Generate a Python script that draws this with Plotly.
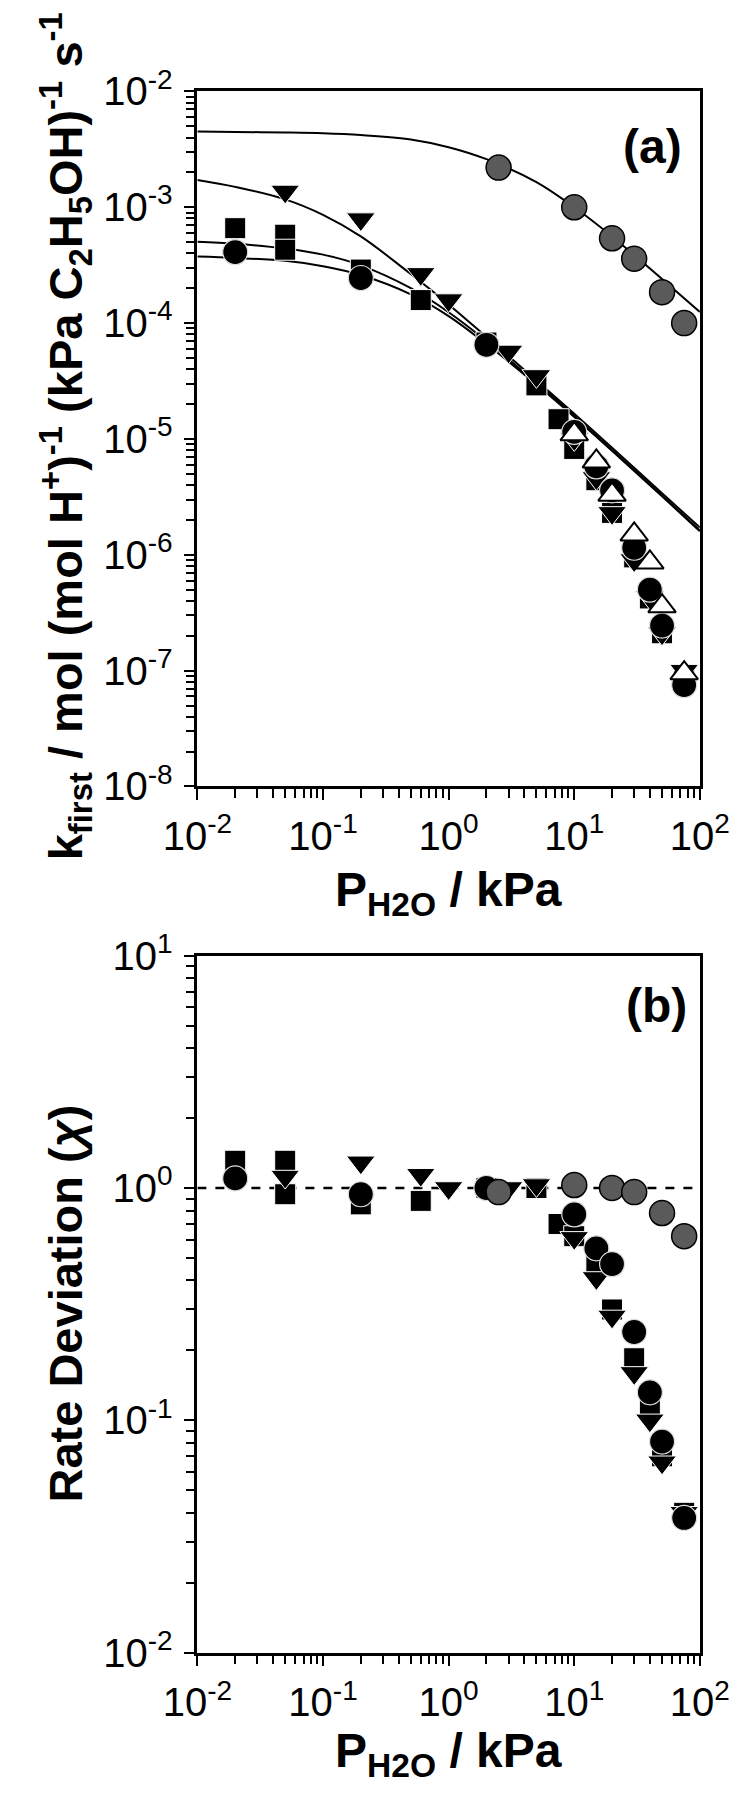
import plotly.graph_objects as go

W, H = 752, 1795

# ---------------- data: panel (a) ----------------
P_CURVE = [0.01, 0.02, 0.05, 0.1, 0.2, 0.5, 1, 2, 5, 10, 20, 50, 100]
curve_gray = [4.5e-3, 4.47e-3, 4.42e-3, 4.35e-3, 4.2e-3, 3.85e-3, 3.3e-3, 2.6e-3, 1.65e-3, 1.0e-3, 5.6e-4, 2.4e-4, 1.25e-4]
curve_tri = [1.72e-3, 1.5e-3, 1.17e-3, 8.6e-4, 5.6e-4, 2.65e-4, 1.45e-4, 7.6e-5, 3.2e-5, 1.65e-5, 8.4e-6, 3.4e-6, 1.72e-6]
curve_sq = [5.05e-4, 4.85e-4, 4.4e-4, 3.9e-4, 3.15e-4, 2.0e-4, 1.24e-4, 7.0e-5, 3.05e-5, 1.58e-5, 8.0e-6, 3.25e-6, 1.62e-6]
curve_circ = [3.75e-4, 3.65e-4, 3.45e-4, 3.1e-4, 2.6e-4, 1.77e-4, 1.15e-4, 6.6e-5, 2.95e-5, 1.55e-5, 7.9e-6, 3.2e-6, 1.6e-6]

gray_x = [2.5, 10, 20, 30, 50, 75]
gray_k = [2.2e-3, 1.0e-3, 5.4e-4, 3.6e-4, 1.85e-4, 1.0e-4]
circ_x = [0.02, 0.2, 2, 10, 15, 20, 30, 40, 50, 75]
circ_k = [4.1e-4, 2.45e-4, 6.5e-5, 1.15e-5, 5.8e-6, 3.6e-6, 1.15e-6, 5.0e-7, 2.45e-7, 7.5e-8]
sq_x = [0.02, 0.05, 0.05, 0.2, 0.6, 2, 5, 7.5, 10, 15, 20, 30, 40, 50, 75]
sq_k = [6.6e-4, 5.8e-4, 4.3e-4, 2.9e-4, 1.58e-4, 6.8e-5, 2.9e-5, 1.48e-5, 8.2e-6, 4.4e-6, 2.3e-6, 9.5e-7, 4.2e-7, 2.1e-7, 8.5e-8]
tri_x = [0.05, 0.2, 0.6, 1, 3, 5, 10, 15, 20, 30, 40, 50, 75]
tri_k = [1.37e-3, 7.9e-4, 2.66e-4, 1.58e-4, 5.7e-5, 3.5e-5, 1.0e-5, 4.6e-6, 2.3e-6, 9.0e-7, 4.3e-7, 2.1e-7, 1.0e-7]
up_x = [10, 15, 20, 30, 40, 50, 75]
up_k = [1.1e-5, 6.4e-6, 3.3e-6, 1.5e-6, 8.6e-7, 3.6e-7, 9.5e-8]

# ---------------- data: panel (b) ----------------
gray_dev = [0.96, 1.03, 1.0, 0.96, 0.78, 0.62]
circ_dev = [1.1, 0.94, 1.0, 0.77, 0.55, 0.47, 0.24, 0.132, 0.081, 0.038]
sq_dev = [1.31, 1.31, 0.94, 0.85, 0.88, 1.0, 1.0, 0.70, 0.62, 0.48, 0.30, 0.185, 0.117, 0.07, 0.04]
tri_dev = [1.12, 1.29, 1.14, 1.0, 1.0, 1.03, 0.61, 0.41, 0.28, 0.16, 0.10, 0.066, 0.04]
REF_X = [0.01, 100]
REF_Y = [1, 1]

# ---------------- ticks ----------------
X_TICKS = [1e-2, 1e-1, 1e0, 1e1, 1e2]
X_TEXT = ["10<sup>-2</sup>", "10<sup>-1</sup>", "10<sup>0</sup>", "10<sup>1</sup>", "10<sup>2</sup>"]
YA_TICKS = [1e-8, 1e-7, 1e-6, 1e-5, 1e-4, 1e-3, 1e-2]
YA_TEXT = ["10<sup>-8</sup>", "10<sup>-7</sup>", "10<sup>-6</sup>", "10<sup>-5</sup>",
           "10<sup>-4</sup>", "10<sup>-3</sup>", "10<sup>-2</sup>"]
YB_TICKS = [1e-2, 1e-1, 1e0, 1e1]
YB_TEXT = ["10<sup>-2</sup>", "10<sup>-1</sup>", "10<sup>0</sup>", "10<sup>1</sup>"]


def minors(lo, hi):
    out = []
    for e in range(lo, hi):
        for m in range(2, 10):
            out.append(m * 10 ** e)
    return out


SANS = "Liberation Sans, Arial, sans-serif"
TICKFONT = dict(family=SANS, size=40, color="black")

fig = go.Figure()


def add(xs, ys, xa, ya, **kw):
    fig.add_trace(go.Scatter(x=xs, y=ys, xaxis=xa, yaxis=ya, showlegend=False, **kw))


for c in [curve_gray, curve_tri, curve_sq, curve_circ]:
    add(P_CURVE, c, "x", "y", mode="lines", line=dict(color="black", width=2, shape="spline"))

m_sq = dict(symbol="square", size=21, color="black", line=dict(color="white", width=1))
m_tri = dict(symbol="triangle-down", size=25, color="black", line=dict(color="white", width=1))
m_circ = dict(symbol="circle", size=25, color="black", line=dict(color="#dddddd", width=1.2))
m_up = dict(symbol="triangle-up", size=24, color="white", line=dict(color="black", width=2))
m_gray = dict(symbol="circle", size=25, color="#5a5a5a", line=dict(color="black", width=1.5))

add(sq_x, sq_k, "x", "y", mode="markers", marker=m_sq)
add(tri_x, tri_k, "x", "y", mode="markers", marker=m_tri)
add(circ_x, circ_k, "x", "y", mode="markers", marker=m_circ)
add(up_x, up_k, "x", "y", mode="markers", marker=m_up)
add(gray_x, gray_k, "x", "y", mode="markers", marker=m_gray)

add(REF_X, REF_Y, "x2", "y2", mode="lines", line=dict(color="black", width=2.5, dash="dash"))
add(sq_x, sq_dev, "x2", "y2", mode="markers", marker=m_sq)
add(tri_x, tri_dev, "x2", "y2", mode="markers", marker=m_tri)
add(circ_x, circ_dev, "x2", "y2", mode="markers", marker=m_circ)
add(gray_x, gray_dev, "x2", "y2", mode="markers", marker=m_gray)

# plot areas in pixels
L, R = 169, 719
A_T, A_B = 57, 772
B_T, B_B = 946, 1663


def ax_common():
    return dict(type="log", showgrid=False, zeroline=False, showline=True, linecolor="black",
                linewidth=2.5, mirror=True, ticks="outside", ticklen=11, tickwidth=2,
                tickcolor="black", tickfont=TICKFONT)


xa = ax_common()
xa.update(domain=[L / W, R / W], range=[-2, 2], tickvals=X_TICKS, ticktext=X_TEXT,
          anchor="y", ticklabelstandoff=2,
          minor=dict(tickvals=minors(-2, 2), ticks="outside", ticklen=9, tickwidth=2, tickcolor="black"))
xb = dict(xa)
xb.update(anchor="y2")

ya = ax_common()
ya.update(domain=[1 - A_B / H, 1 - A_T / H], range=[-8, -2], tickvals=YA_TICKS, ticktext=YA_TEXT,
          anchor="x", ticklabelstandoff=3,
          minor=dict(tickvals=minors(-8, -2), ticks="outside", ticklen=9, tickwidth=2, tickcolor="black"))
yb = ax_common()
yb.update(domain=[1 - B_B / H, 1 - B_T / H], range=[-2, 1], tickvals=YB_TICKS, ticktext=YB_TEXT,
          anchor="x2", ticklabelstandoff=3,
          minor=dict(tickvals=minors(-2, 1), ticks="outside", ticklen=9, tickwidth=2, tickcolor="black"))

TITLE_FONT = dict(family=SANS, size=47, color="black")
LABEL_FONT = dict(family=SANS, size=48, color="black")
TAG_FONT = dict(family=SANS, size=48, color="black")

annotations = [
    dict(text="<b>k<sub>first</sub> / mol (mol H<sup>+</sup>)<sup>-1</sup> (kPa C<sub>2</sub>H<sub>5</sub>OH)<sup>-1</sup> s<sup>-1</sup></b>",
         x=25 / W, y=1 - 412 / H, xref="paper", yref="paper", textangle=-90, showarrow=False,
         font=TITLE_FONT, xanchor="center", yanchor="middle"),
    dict(text="<b>Rate Deviation (<i>χ</i>)</b>",
         x=25 / W, y=1 - 1304 / H, xref="paper", yref="paper", textangle=-90, showarrow=False,
         font=TITLE_FONT, xanchor="center", yanchor="middle"),
    dict(text="<b>P<sub>H2O</sub> / kPa</b>", x=444 / W, y=1 - 882 / H, xref="paper", yref="paper",
         showarrow=False, font=LABEL_FONT, xanchor="center", yanchor="middle"),
    dict(text="<b>P<sub>H2O</sub> / kPa</b>", x=444 / W, y=1 - 1767 / H, xref="paper", yref="paper",
         showarrow=False, font=LABEL_FONT, xanchor="center", yanchor="middle"),
    dict(text="<b>(a)</b>", x=667 / W, y=1 - 114 / H, xref="paper", yref="paper",
         showarrow=False, font=TAG_FONT, xanchor="center", yanchor="middle"),
    dict(text="<b>(b)</b>", x=672 / W, y=1 - 997 / H, xref="paper", yref="paper",
         showarrow=False, font=TAG_FONT, xanchor="center", yanchor="middle"),
]

fig.update_layout(width=W, height=H, margin=dict(l=0, r=0, t=0, b=0),
                  paper_bgcolor="white", plot_bgcolor="white",
                  xaxis=xa, yaxis=ya, xaxis2=xb, yaxis2=yb,
                  annotations=annotations, showlegend=False)

fig.write_html("out.html")
